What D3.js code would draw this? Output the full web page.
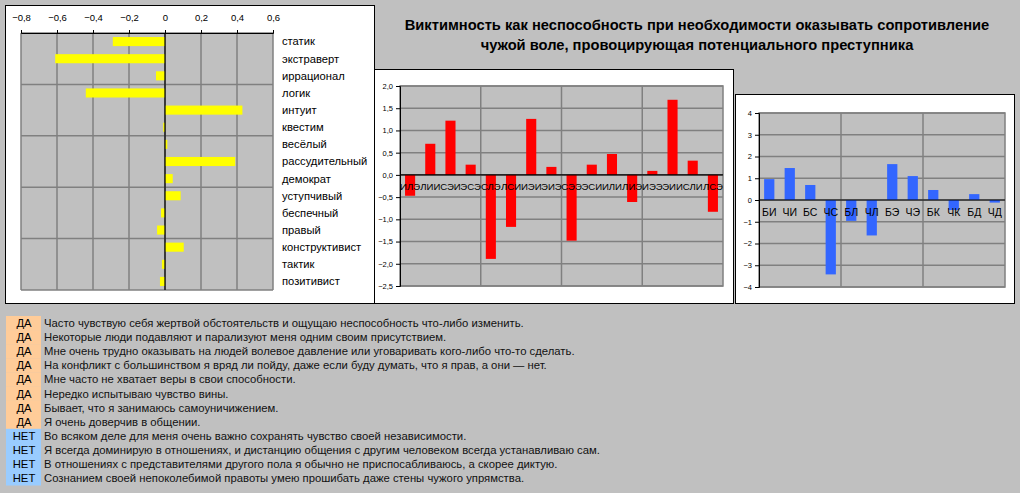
<!DOCTYPE html>
<html>
<head>
<meta charset="utf-8">
<script src="https://cdn.jsdelivr.net/npm/d3@7"></script>
<style>
  body { margin: 0; background: #c0c0c0; }
  svg { display: block; font-family: "Liberation Sans", Arial, sans-serif; }
</style>
</head>
<body>
<div class="canvas"></div>
<script>
// --- data ---
const traitCats = ['статик', 'экстраверт', 'иррационал', 'логик', 'интуит', 'квестим', 'весёлый',
    'рассудительный', 'демократ', 'уступчивый', 'беспечный', 'правый', 'конструктивист', 'тактик', 'позитивист'];
const traitVals = [-0.29, -0.61, -0.05, -0.44, 0.43, -0.01, 0.013, 0.39, 0.043, 0.087, -0.022, -0.044, 0.104, -0.017, -0.028];
const traitTicks = [-0.8, -0.6, -0.4, -0.2, 0, 0.2, 0.4, 0.6];

const typeCats = ['ИЛЭ', 'ЛИИ', 'СЭИ', 'ЭСЭ', 'СЛЭ', 'ЛСИ', 'ИЭИ', 'ЭИЭ', 'СЭЭ', 'ЭСИ', 'ИЛИ', 'ЛИЭ', 'ИЭЭ', 'ЭИИ', 'СЛИ', 'ЛСЭ'];
const typeVals = [-0.47, 0.70, 1.22, 0.23, -1.89, -1.17, 1.26, 0.18, -1.48, 0.23, 0.47, -0.61, 0.09, 1.69, 0.32, -0.83];
const typeTicks = [2.0, 1.5, 1.0, 0.5, 0, -0.5, -1.0, -1.5, -2.0, -2.5];

const funcCats = ['БИ', 'ЧИ', 'БС', 'ЧС', 'БЛ', 'ЧЛ', 'БЭ', 'ЧЭ', 'БК', 'ЧК', 'БД', 'ЧД'];
const funcVals = [0.96, 1.47, 0.69, -3.42, -0.96, -1.63, 1.65, 1.10, 0.46, -0.46, 0.27, -0.12];
const funcTicks = [4, 3, 2, 1, 0, -1, -2, -3, -4];

const titleLines = ['Виктимность как неспособность при необходимости оказывать сопротивление',
    'чужой воле, провоцирующая потенциального преступника'];

const answers = ['ДА', 'ДА', 'ДА', 'ДА', 'ДА', 'ДА', 'ДА', 'ДА', 'НЕТ', 'НЕТ', 'НЕТ', 'НЕТ'];
const statements = [
    'Часто чувствую себя жертвой обстоятельств и ощущаю неспособность что-либо изменить.',
    'Некоторые люди подавляют и парализуют меня одним своим присутствием.',
    'Мне очень трудно оказывать на людей волевое давление или уговаривать кого-либо что-то сделать.',
    'На конфликт с большинством я вряд ли пойду, даже если буду думать, что я прав, а они — нет.',
    'Мне часто не хватает веры в свои способности.',
    'Нередко испытываю чувство вины.',
    'Бывает, что я занимаюсь самоуничижением.',
    'Я очень доверчив в общении.',
    'Во всяком деле для меня очень важно сохранять чувство своей независимости.',
    'Я всегда доминирую в отношениях, и дистанцию общения с другим человеком всегда устанавливаю сам.',
    'В отношениях с представителями другого пола я обычно не приспосабливаюсь, а скорее диктую.',
    'Сознанием своей непоколебимой правоты умею прошибать даже стены чужого упрямства.'
];

const comma = f => d => f(d).replace('.', ',');

const svg = d3.select('.canvas')
    .append('svg')
    .attr('width', 1020)
    .attr('height', 493);

svg.append('rect')
    .attr('width', 1020).attr('height', 493)
    .attr('fill', '#c0c0c0');

// --- left panel: horizontal bars ---
const left = svg.append('g');
left.append('rect')
    .attr('x', 5.5).attr('y', 5.5).attr('width', 369).attr('height', 298)
    .attr('fill', 'white').attr('stroke', 'black');

const lp = {left: 21, right: 273, top: 33, bottom: 290};
const lx = d3.scaleLinear().domain([-0.8, 0.6]).range([lp.left, lp.right]);
const ly = d3.scaleBand().domain(traitCats).range([lp.top, lp.bottom]).paddingInner(0.47).paddingOuter(0.235);

const lg = left.append('g');
lg.append('rect')
    .attr('x', lp.left).attr('y', lp.top)
    .attr('width', lp.right - lp.left).attr('height', lp.bottom - lp.top)
    .attr('fill', '#c0c0c0');

lg.selectAll('.vgrid')
    .data(traitTicks)
    .enter().append('line')
    .attr('x1', d => lx(d)).attr('x2', d => lx(d))
    .attr('y1', lp.top).attr('y2', lp.bottom)
    .attr('stroke', '#808080').attr('stroke-width', 1.5);

const lstep = (lp.bottom - lp.top) / traitCats.length;
lg.selectAll('.hgrid')
    .data(d3.range(0, traitCats.length + 1, 3))
    .enter().append('line')
    .attr('x1', lp.left).attr('x2', lp.right)
    .attr('y1', d => lp.top + d * lstep).attr('y2', d => lp.top + d * lstep)
    .attr('stroke', '#808080').attr('stroke-width', 1.5);

lg.selectAll('.bar')
    .data(traitVals)
    .enter().append('rect')
    .attr('x', d => lx(Math.min(0, d)))
    .attr('width', d => Math.abs(lx(d) - lx(0)))
    .attr('y', (d, i) => ly(traitCats[i]))
    .attr('height', ly.bandwidth())
    .attr('fill', '#ffff00');

lg.append('line')
    .attr('x1', lx(0)).attr('x2', lx(0))
    .attr('y1', lp.top).attr('y2', lp.bottom)
    .attr('stroke', 'black').attr('stroke-width', 1.2);

const lxAxis = lg.append('g')
    .attr('transform', `translate(0, ${lp.top})`)
    .call(d3.axisTop(lx).tickValues(traitTicks).tickSize(3).tickPadding(9).tickFormat(comma(d3.format('.1f'))));
lxAxis.select('.domain').attr('stroke', 'black');
lxAxis.selectAll('text').attr('font-size', 9.5).attr('fill', 'black').attr('font-family', 'inherit')
    .text(d => d === 0 ? '0' : d3.format('.1f')(d).replace('.', ','));

lg.selectAll('.cat')
    .data(traitCats)
    .enter().append('text')
    .attr('x', 282)
    .attr('y', d => ly(d) + ly.bandwidth() / 2)
    .attr('dy', '0.35em')
    .attr('font-size', 11.2)
    .attr('fill', 'black')
    .text(d => d);

// --- title ---
svg.append('g').selectAll('text')
    .data(titleLines)
    .enter().append('text')
    .attr('x', 697)
    .attr('y', (d, i) => 30 + i * 20)
    .attr('text-anchor', 'middle')
    .attr('font-size', 14.7)
    .attr('font-weight', 'bold')
    .attr('fill', 'black')
    .text(d => d);

// --- vertical bar charts ---
const columnChart = (box, p, cats, vals, ticks, domain, color, fmt, every, labelSize) => {
    const g = svg.append('g');
    g.append('rect')
        .attr('x', box.x + 0.5).attr('y', box.y + 0.5).attr('width', box.w).attr('height', box.h)
        .attr('fill', 'white').attr('stroke', 'black');

    const x = d3.scaleBand().domain(cats).range([p.left, p.right]).paddingInner(0.5).paddingOuter(0.25);
    const y = d3.scaleLinear().domain(domain).range([p.bottom, p.top]);
    const step = (p.right - p.left) / cats.length;

    g.append('rect')
        .attr('x', p.left).attr('y', p.top)
        .attr('width', p.right - p.left).attr('height', p.bottom - p.top)
        .attr('fill', '#c0c0c0').attr('stroke', '#808080').attr('stroke-width', 1.5);

    g.selectAll('.hgrid')
        .data(ticks)
        .enter().append('line')
        .attr('x1', p.left).attr('x2', p.right)
        .attr('y1', d => y(d)).attr('y2', d => y(d))
        .attr('stroke', '#808080').attr('stroke-width', 1.5);

    g.selectAll('.vgrid')
        .data(d3.range(every, cats.length, every))
        .enter().append('line')
        .attr('x1', d => p.left + d * step).attr('x2', d => p.left + d * step)
        .attr('y1', p.top).attr('y2', p.bottom)
        .attr('stroke', '#808080').attr('stroke-width', 1.5);

    g.selectAll('.bar')
        .data(vals)
        .enter().append('rect')
        .attr('x', (d, i) => x(cats[i]))
        .attr('width', x.bandwidth())
        .attr('y', d => y(Math.max(0, d)))
        .attr('height', d => Math.abs(y(d) - y(0)))
        .attr('fill', color);

    g.append('line')
        .attr('x1', p.left).attr('x2', p.right)
        .attr('y1', y(0)).attr('y2', y(0))
        .attr('stroke', 'black').attr('stroke-width', 1.2);

    const yAxis = g.append('g')
        .attr('transform', `translate(${p.left}, 0)`)
        .call(d3.axisLeft(y).tickValues(ticks).tickSize(4).tickPadding(3).tickFormat(fmt));
    yAxis.select('.domain').attr('stroke', 'black');
    yAxis.selectAll('text').attr('font-size', 7.5).attr('fill', 'black').attr('font-family', 'inherit');

    g.selectAll('.cat')
        .data(cats)
        .enter().append('text')
        .attr('x', d => x(d) + x.bandwidth() / 2)
        .attr('y', y(0) + 12)
        .attr('dy', '0.35em')
        .attr('text-anchor', 'middle')
        .attr('font-size', labelSize)
        .attr('fill', 'black')
        .text(d => d);
};

columnChart({x: 374, y: 69, w: 359, h: 234}, {left: 400, right: 723, top: 86, bottom: 286},
    typeCats, typeVals, typeTicks, [-2.5, 2.0], '#ff0000', comma(d3.format('.1f')), 4, 9.6);

columnChart({x: 735, y: 94, w: 279, h: 209}, {left: 759, right: 1005, top: 113, bottom: 287},
    funcCats, funcVals, funcTicks, [-4, 4], '#3366ff', d3.format('d'), 4, 10.5);

// --- statements ---
const rowH = 14.1;
const rows = svg.append('g')
    .selectAll('g')
    .data(statements)
    .enter().append('g')
    .attr('transform', (d, i) => `translate(0, ${316 + i * rowH})`);

rows.append('rect')
    .attr('x', 6).attr('width', 35).attr('height', rowH + 0.3)
    .attr('fill', (d, i) => answers[i] === 'ДА' ? '#ffcc99' : '#99ccff');

rows.append('text')
    .attr('x', 24).attr('y', rowH / 2).attr('dy', '0.35em')
    .attr('text-anchor', 'middle')
    .attr('font-size', 11.3).attr('fill', 'black')
    .text((d, i) => answers[i]);

rows.append('text')
    .attr('x', 44).attr('y', rowH / 2).attr('dy', '0.35em')
    .attr('font-size', 11.3).attr('fill', '#111')
    .text(d => d);
</script>
</body>
</html>
